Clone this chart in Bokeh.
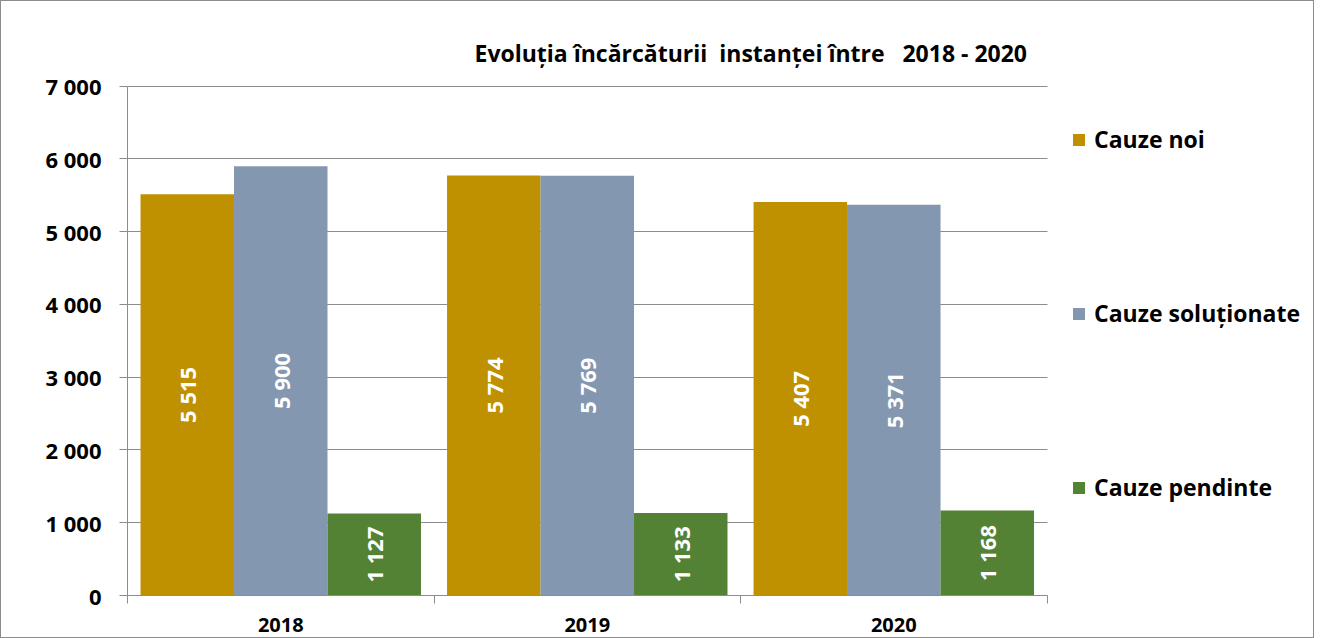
import math
from bokeh.plotting import figure
from bokeh.models import (ColumnDataSource, Range1d, FixedTicker, CustomJSTickFormatter,
                          LabelSet, Legend, LegendItem)
from bokeh.core.properties import value
from bokeh.transform import dodge
from bokeh.embed import file_html
from bokeh.resources import INLINE

years = ["2018", "2019", "2020"]
cauze_noi = [5515, 5774, 5407]
cauze_solutionate = [5900, 5769, 5371]
cauze_pendinte = [1127, 1133, 1168]
series_names = ["Cauze noi", "Cauze soluționate", "Cauze pendinte"]
colors = ["#BF9000", "#8497B0", "#548235"]
title_text = "Evoluția încărcăturii \u00a0instanței între \u00a0 2018 - 2020"

FONT = "Open Sans"

def fmt(v):
    return f"{v:,}".replace(",", " ")

xpos = [i + 0.5 for i in range(len(years))]
n_cat = len(years)

# layout (pixels)
FIG_W, FIG_H = 1314, 638
BORDER_L = 126
PLOT_W = 918                 # width of the bar area
FRAME_W = FIG_W - 2 - BORDER_L
x_end = n_cat * FRAME_W / PLOT_W   # frame extends to the right to host the legend

p = figure(width=FIG_W, height=FIG_H, output_backend="svg", toolbar_location=None,
           x_range=Range1d(0, x_end), y_range=Range1d(0, 7010),
           min_border_left=BORDER_L, min_border_right=0, min_border_top=84, min_border_bottom=44)
p.styles = {"border": "1px solid #8c8c8c", "box-sizing": "border-box"}
p.outline_line_color = None
p.background_fill_color = "white"

p.title.text = title_text
p.title.align = "left"
p.title.offset = 347
p.title.text_font = FONT
p.title.text_font_size = "23px"
p.title.text_font_style = "bold"
p.title.text_color = "black"
p.title.standoff = 33

width = 0.305
offsets = [-width, 0.0, width]
renderers = []
for name, vals, col, off in zip(series_names, [cauze_noi, cauze_solutionate, cauze_pendinte], colors, offsets):
    src = ColumnDataSource(dict(x=xpos, top=vals, mid=[v / 2 for v in vals], lbl=[fmt(v) for v in vals]))
    r = p.vbar(x=dodge("x", off), top="top", width=width, bottom=0, source=src,
               fill_color=col, line_color=None)
    renderers.append((name, r))
    p.add_layout(LabelSet(x=dodge("x", off), y="mid", text="lbl", source=src, angle=math.pi / 2,
                          text_align="center", text_baseline="middle", text_color="white",
                          text_font=value(FONT), text_font_style="bold", text_font_size="22px"))

# y axis
p.yaxis.ticker = FixedTicker(ticks=list(range(0, 7001, 1000)))
p.yaxis.formatter = CustomJSTickFormatter(code="return tick.toString().replace(/\\B(?=(\\d{3})+(?!\\d))/g, ' ');")
p.yaxis.major_label_text_font = FONT
p.yaxis.major_label_text_font_style = "bold"
p.yaxis.major_label_text_font_size = "22px"
p.yaxis.major_label_text_color = "black"
p.yaxis.axis_line_color = "#8c8c8c"
p.yaxis.major_tick_line_color = "#8c8c8c"
p.yaxis.major_tick_out = 8
p.yaxis.major_tick_in = 0
p.yaxis.minor_tick_line_color = None
p.yaxis.major_label_standoff = 18
p.yaxis.bounds = (0, 7000)

# x axis
p.xaxis.ticker = FixedTicker(ticks=xpos, minor_ticks=list(range(n_cat + 1)))
p.xaxis.major_label_overrides = {x: y for x, y in zip(xpos, years)}
p.xaxis.bounds = (0, n_cat)
p.xaxis.major_tick_line_color = None
p.xaxis.minor_tick_line_color = "#8c8c8c"
p.xaxis.minor_tick_out = 8
p.xaxis.minor_tick_in = 0
p.xaxis.axis_line_color = "#8c8c8c"
p.xaxis.major_label_text_font = FONT
p.xaxis.major_label_text_font_style = "bold"
p.xaxis.major_label_text_font_size = "20px"
p.xaxis.major_label_text_color = "black"
p.xaxis.major_label_standoff = 14

p.xgrid.grid_line_color = None
p.ygrid.grid_line_color = "#8c8c8c"
p.ygrid.ticker = FixedTicker(ticks=list(range(1000, 7001, 1000)))
p.ygrid.cross_bounds = (0, n_cat)

legend = Legend(items=[LegendItem(label=n, renderers=[r]) for n, r in renderers],
                location=(944, 92), orientation="vertical",
                glyph_width=15, glyph_height=15, label_height=24, spacing=142,
                label_text_font=FONT, label_text_font_style="bold", label_text_font_size="23px",
                label_text_color="black", padding=0, margin=0, border_line_color=None,
                background_fill_alpha=0, label_standoff=8)
p.add_layout(legend, "center")

open("out.html", "w").write(file_html(p, INLINE))
